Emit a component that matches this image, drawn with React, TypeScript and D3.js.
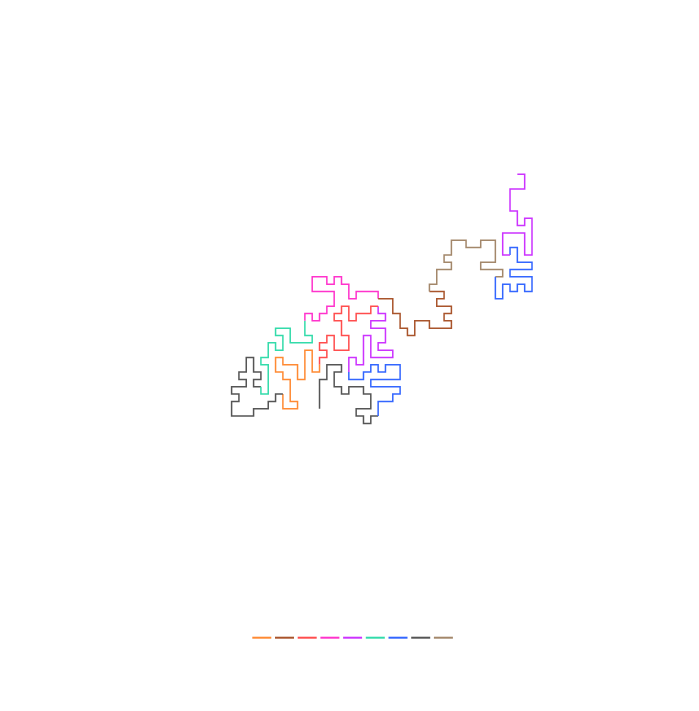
import React from "react";
import * as d3 from "d3";

// Legend series (order as in the legend) and their colours
const seriesNames = ["s1", "s2", "s3", "s4", "s5", "s6", "s7", "s8", "s9"];
const seriesColors = ["#ff8a33", "#a9542b", "#ff4d4d", "#ff33cc", "#cc33ff", "#33dbaa", "#3366ff", "#555555", "#a3876a"];

// Random-walk pieces, grid coordinates [column, row] (row counted from top)
const seg1: [number, number][] = [[12,32],[12,28],[13,28],[13,26],[15,26],[15,27],[14,27],[14,29],[15,29],[15,30],[16,30],[16,29],[18,29],[18,30],[19,30],[19,32],[17,32],[17,33],[18,33],[18,34],[19,34],[19,33],[20,33]];
const seg2: [number, number][] = [[20,33],[20,31],[22,31],[22,30],[23,30],[23,29],[19,29],[19,28],[23,28],[23,26],[21,26],[21,27],[20,27],[20,26],[19,26],[19,27],[18,27],[18,28],[16,28],[16,27]];
const seg3: [number, number][] = [[16,27],[16,25],[17,25],[17,26],[18,26],[18,22],[19,22],[19,25],[22,25],[22,24],[20,24],[20,23],[21,23],[21,21],[19,21],[19,20],[21,20],[21,19],[20,19],[20,18]];
const seg4: [number, number][] = [[20,18],[19,18],[19,19],[17,19],[17,20],[16,20],[16,18],[15,18],[15,19],[14,19],[14,20],[15,20],[15,22],[16,22],[16,24],[14,24],[14,22],[13,22],[13,23],[12,23],[12,24],[13,24],[13,25],[12,25],[12,26]];
const seg5: [number, number][] = [[12,26],[12,27],[11,27],[11,24],[10,24],[10,28],[9,28],[9,26],[7,26],[7,25],[6,25],[6,27],[7,27],[7,28],[8,28],[8,31],[9,31],[9,32],[7,32],[7,30]];
const seg6: [number, number][] = [[7,30],[6,30],[6,31],[5,31],[5,32],[3,32],[3,33],[0,33],[0,31],[1,31],[1,30],[0,30],[0,29],[2,29],[2,28],[1,28],[1,27],[2,27],[2,25],[3,25],[3,27],[4,27],[4,28],[3,28],[3,29],[4,29]];
const seg7: [number, number][] = [[4,29],[4,30],[5,30],[5,26],[4,26],[4,25],[5,25],[5,23],[6,23],[6,24],[7,24],[7,22],[6,22],[6,21],[8,21],[8,23],[11,23],[11,22],[10,22],[10,20]];
const seg8: [number, number][] = [[10,20],[10,19],[11,19],[11,20],[12,20],[12,19],[13,19],[13,18],[14,18],[14,16],[11,16],[11,14],[13,14],[13,15],[14,15],[14,14],[15,14],[15,15],[16,15],[16,17],[17,17],[17,16],[20,16],[20,17]];
const seg9: [number, number][] = [[20,17],[22,17],[22,19],[23,19],[23,21],[24,21],[24,22],[25,22],[25,20],[27,20],[27,21],[30,21],[30,20],[29,20],[29,19],[30,19],[30,18],[28,18],[28,17],[29,17],[29,16],[27,16]];
const seg10: [number, number][] = [[27,16],[27,15],[28,15],[28,13],[30,13],[30,12],[29,12],[29,11],[30,11],[30,9],[32,9],[32,10],[34,10],[34,9],[36,9],[36,12],[34,12],[34,13],[37,13],[37,14],[36,14]];
const seg11: [number, number][] = [[36,14],[36,17],[37,17],[37,15],[38,15],[38,16],[39,16],[39,15],[40,15],[40,16],[41,16],[41,14],[38,14],[38,13],[41,13],[41,12],[39,12],[39,10],[38,10],[38,11]];
const seg12: [number, number][] = [[38,11],[37,11],[37,8],[40,8],[40,11],[41,11],[41,6],[40,6],[40,7],[39,7],[39,5],[38,5],[38,2],[40,2],[40,0],[39,0]];

const segments = [seg1, seg2, seg3, seg4, seg5, seg6, seg7, seg8, seg9, seg10, seg11, seg12];
// which legend series each piece belongs to
const segmentSeries = [7, 6, 4, 2, 0, 7, 5, 3, 1, 8, 6, 4];

const W = 699;
const H = 711;

export default function App() {
  const x = d3.scaleLinear().domain([0, 41]).range([231.6, 532]);
  const y = d3.scaleLinear().domain([0, 34]).range([174.3, 423.4]);
  const line = d3
    .line<[number, number]>()
    .x((d) => x(d[0]))
    .y((d) => y(d[1]));

  const legendX = d3.scaleLinear().domain([0, 1]).range([252.3, 275]);
  const legendY = 637.7;
  const legendW = 19;

  return (
    <svg
      width={W}
      height={H}
      style={{ position: "absolute", left: 0, top: 0, background: "#fff" }}
    >
      <g fill="none" strokeWidth={1.5} strokeLinejoin="miter" strokeLinecap="butt">
        {segments.map((seg, i) => (
          <path key={i} d={line(seg) || ""} stroke={seriesColors[segmentSeries[i]]} />
        ))}
      </g>
      <g>
        {seriesNames.map((name, i) => (
          <line
            key={name}
            x1={legendX(i)}
            x2={legendX(i) + legendW}
            y1={legendY}
            y2={legendY}
            stroke={seriesColors[i]}
            strokeWidth={2}
          />
        ))}
      </g>
    </svg>
  );
}
